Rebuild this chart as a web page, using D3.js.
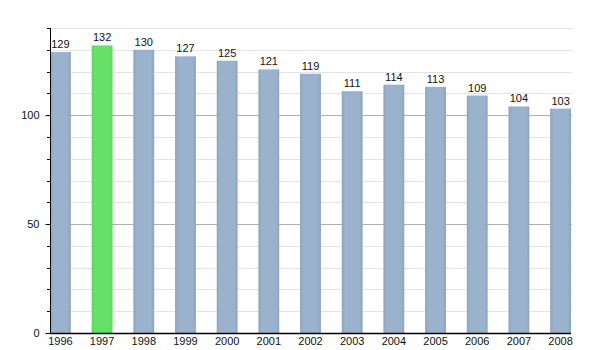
<!DOCTYPE html>
<html><head><meta charset="utf-8">
<script src="https://cdn.jsdelivr.net/npm/d3@7"></script>
<style>body{margin:0;background:#fff}text{font-family:"Liberation Sans",Arial,sans-serif}</style>
</head><body>
<svg id="c" width="600" height="350"></svg>
<script>
const years = ["1996","1997","1998","1999","2000","2001","2002","2003","2004","2005","2006","2007","2008"];
const values = [129,132,130,127,125,121,119,111,114,113,109,104,103];
const highlight = "1997";
const yTicks = [0,50,100];

(function(){
const svg = d3.select("#c");
const mLeft = 50, mRight = 571, mTop = 28, mBottom = 333;
const x = d3.scaleBand().domain(years).range([mLeft, mRight]).paddingInner(0.5).paddingOuter(0).align(0);
const y = d3.scaleLinear().domain([0,140]).range([mBottom, mTop]);

const defs = svg.append("defs");
function grad(id, c1, c2){
  const g = defs.append("linearGradient").attr("id", id).attr("x1",0).attr("x2",1).attr("y1",0).attr("y2",0);
  g.append("stop").attr("offset","0%").attr("stop-color",c2);
  g.append("stop").attr("offset","15%").attr("stop-color",c1);
  g.append("stop").attr("offset","85%").attr("stop-color",c1);
  g.append("stop").attr("offset","100%").attr("stop-color",c2);
}
grad("gb","#9ab2cc","#8aa3bf");
grad("gg","#66e066","#5cd65c");

const minor = d3.range(10,141,10).filter(v => v % 50 !== 0);
svg.append("g").selectAll("line").data(minor).join("line")
  .attr("x1", mLeft).attr("x2", mRight+1).attr("y1", d=>Math.round(y(d))+0.5).attr("y2", d=>Math.round(y(d))+0.5)
  .attr("stroke", "#e4e4e4");
svg.append("g").selectAll("line").data([50,100]).join("line")
  .attr("x1", mLeft).attr("x2", mRight+1).attr("y1", d=>Math.round(y(d))+0.5).attr("y2", d=>Math.round(y(d))+0.5)
  .attr("stroke", "#b0b0b0");

svg.append("g").selectAll("rect").data(years).join("rect")
  .attr("x", d=>x(d)).attr("width", x.bandwidth())
  .attr("y", (d,i)=>y(values[i])).attr("height", (d,i)=>y(0)-y(values[i]))
  .attr("fill", d=> d===highlight ? "url(#gg)" : "url(#gb)");

svg.append("g").selectAll("text").data(years).join("text")
  .attr("x", d=>x(d)+x.bandwidth()/2).attr("y", (d,i)=>y(values[i])-4)
  .attr("text-anchor","middle").attr("font-size", 11).attr("fill","#111")
  .text((d,i)=>values[i]);

const ya = d3.axisLeft(y).tickValues(yTicks).tickSize(5).tickPadding(6);
const gy = svg.append("g").attr("transform", `translate(${mLeft+0.5},0)`).call(ya);
gy.select(".domain").attr("d", `M0,${mTop}V${mBottom}`).attr("stroke","#000");
gy.selectAll("text").attr("font-size", 11).attr("fill","#111").attr("font-family","Liberation Sans, Arial, sans-serif");
gy.selectAll(".tick line").attr("stroke","#000");
svg.append("g").selectAll("line").data(d3.range(10,141,10)).join("line")
  .attr("x1", mLeft-3).attr("x2", mLeft).attr("y1", d=>Math.round(y(d))+0.5).attr("y2", d=>Math.round(y(d))+0.5)
  .attr("stroke","#000");

const xa = d3.axisBottom(x).tickSize(0).tickPadding(4);
const gx = svg.append("g").attr("transform", `translate(0,${mBottom+0.5})`).call(xa);
gx.select(".domain").attr("d", `M${mLeft},0H${mRight}`).attr("stroke","#000").attr("stroke-width",1.5);
gx.selectAll("text").attr("font-size", 11).attr("fill","#111").attr("font-family","Liberation Sans, Arial, sans-serif");
})();
</script>
</body></html>
